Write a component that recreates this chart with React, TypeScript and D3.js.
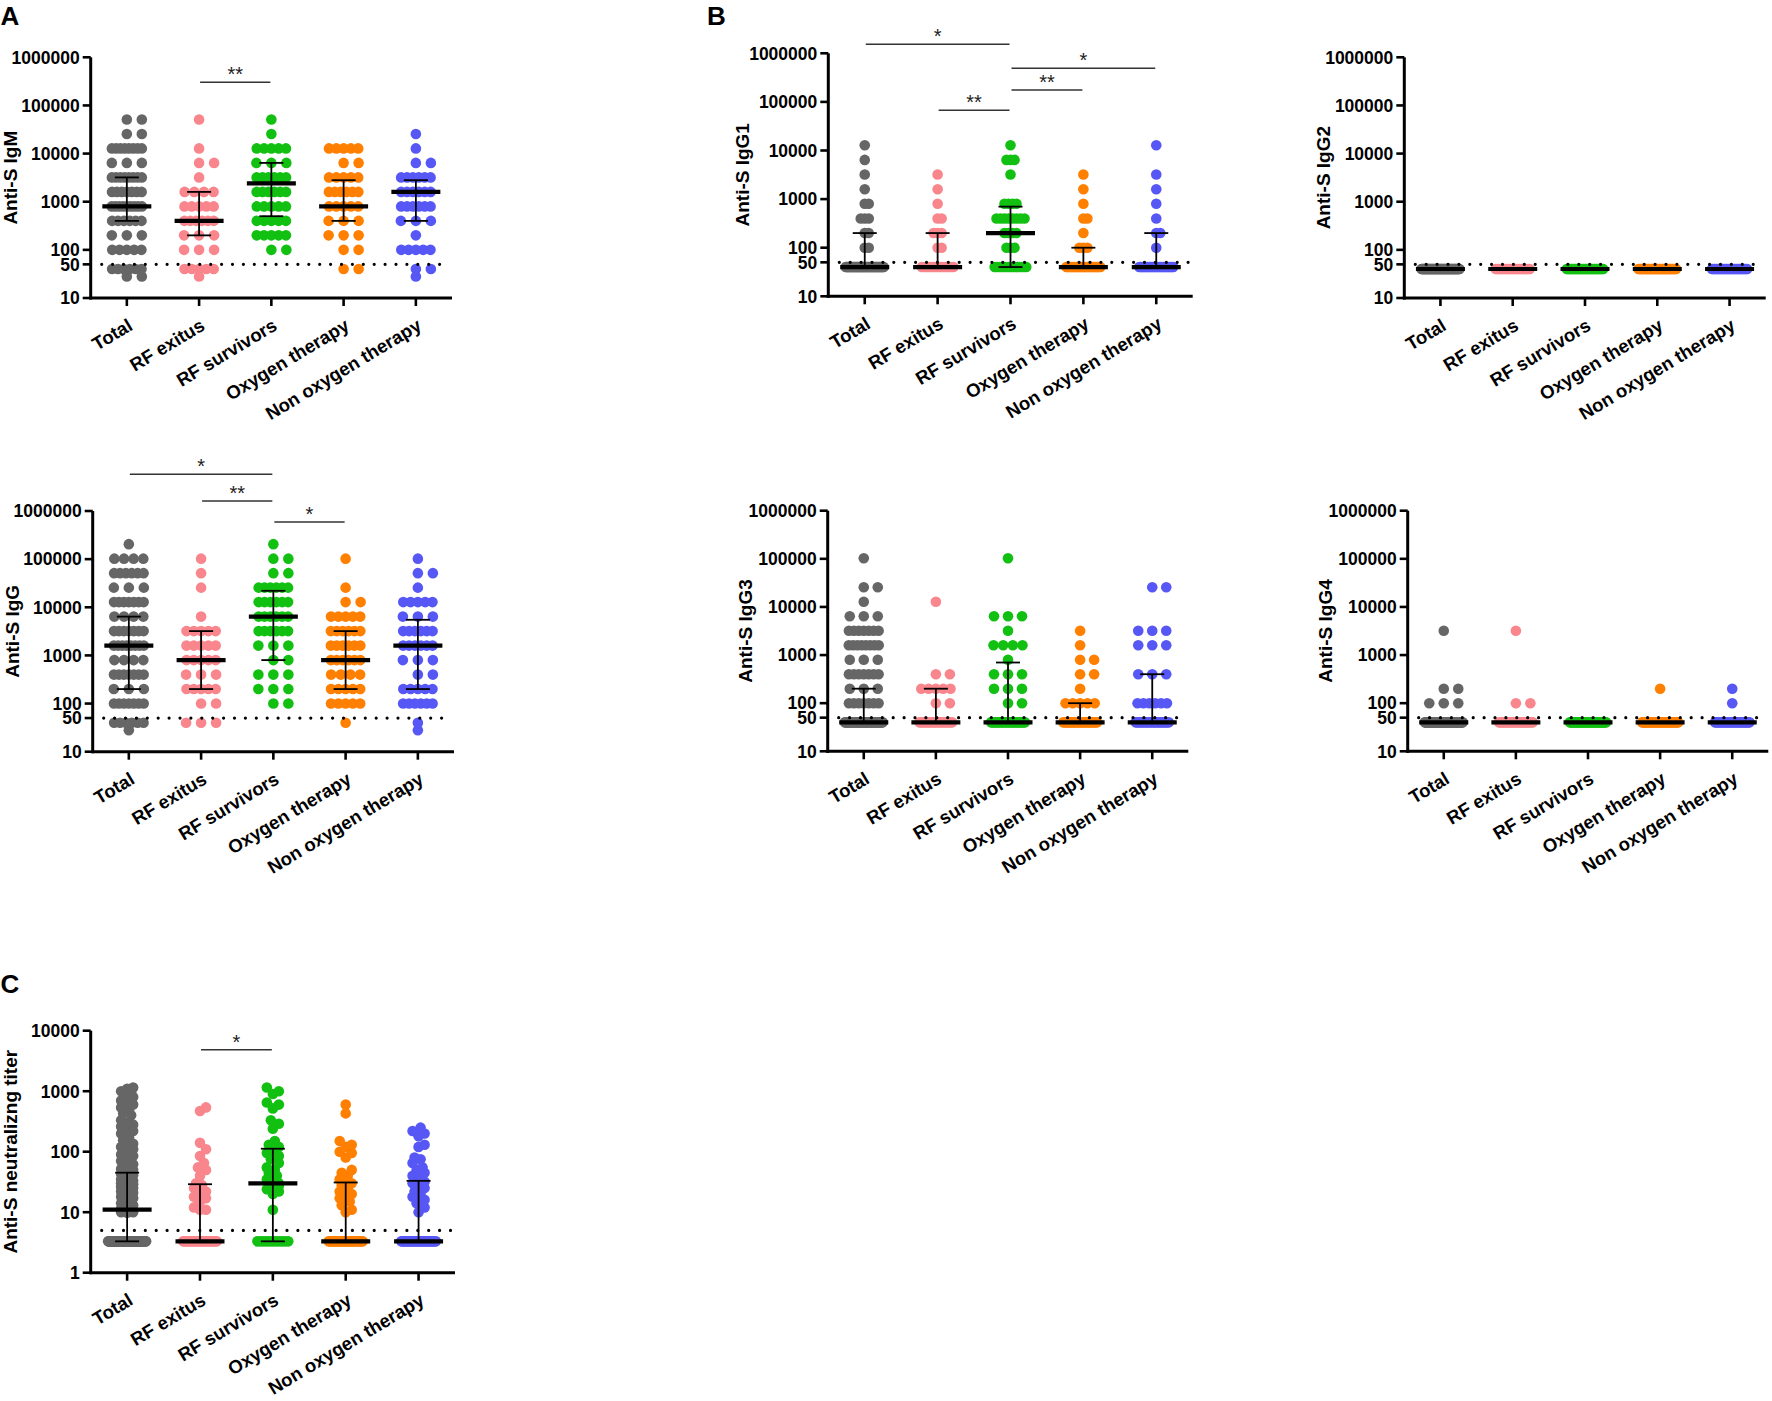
import React from 'react';
import * as d3 from 'd3';

const groupNames = ['Total', 'RF exitus', 'RF survivors', 'Oxygen therapy', 'Non oxygen therapy'];
const groupColors = ['#666666', '#F8868C', '#12C012', '#FF7F00', '#5757F5'];

// ELISA end-point titers as [titer, number of patients]; titers under the 50 cut-off are plotted at 40 / 28
const igmTotal = [[28, 2], [40, 6], [100, 5], [200, 3], [400, 6], [800, 9], [1600, 7], [3200, 8], [6400, 3], [12800, 8], [25600, 2], [51200, 2]];
const igmExitus = [[28, 1], [40, 5], [100, 3], [200, 3], [400, 6], [800, 5], [1600, 4], [3200, 1], [6400, 2], [12800, 1], [51200, 1]];
const igmSurvivors = [[100, 2], [200, 5], [400, 5], [800, 5], [1600, 6], [3200, 6], [6400, 3], [12800, 5], [25600, 1], [51200, 1]];
const igmOxygen = [[40, 2], [100, 2], [200, 3], [400, 3], [800, 5], [1600, 6], [3200, 5], [6400, 2], [12800, 5]];
const igmNonOxygen = [[28, 1], [40, 2], [100, 5], [200, 1], [400, 3], [800, 6], [1600, 6], [3200, 6], [6400, 2], [12800, 1], [25600, 1]];
const igmMedian = [800, 400, 2400, 800, 1600];
const igmQ1 = [400, 200, 500, 400, 400];
const igmQ3 = [3200, 1600, 6400, 2800, 2800];
const igmSig = [[1, 2, '**']];

const iggTotal = [[28, 1], [40, 6], [100, 7], [200, 3], [400, 7], [800, 4], [1600, 8], [3200, 7], [6400, 4], [12800, 7], [25600, 3], [51200, 6], [102400, 4], [204800, 1]];
const iggExitus = [[40, 3], [100, 2], [200, 5], [400, 3], [800, 5], [1600, 5], [3200, 5], [6400, 1], [25600, 1], [51200, 1], [102400, 1]];
const iggSurvivors = [[100, 2], [200, 3], [400, 3], [800, 2], [1600, 3], [3200, 6], [6400, 6], [12800, 6], [25600, 6], [51200, 2], [102400, 2], [204800, 1]];
const iggOxygen = [[40, 1], [100, 5], [200, 5], [400, 4], [800, 6], [1600, 6], [3200, 6], [6400, 5], [12800, 2], [25600, 1], [102400, 1]];
const iggNonOxygen = [[28, 1], [40, 1], [100, 6], [200, 5], [400, 2], [800, 3], [1600, 6], [3200, 6], [6400, 3], [12800, 5], [25600, 1], [51200, 2], [102400, 1]];
const iggMedian = [1600, 800, 6400, 800, 1600];
const iggQ1 = [200, 200, 800, 200, 200];
const iggQ3 = [6400, 3200, 22000, 3200, 5500];
const iggSig = [[0, 2, '*'], [1, 2, '**'], [2, 3, '*']];

const igg1Total = [[40, 45], [100, 2], [200, 2], [400, 3], [800, 2], [1600, 1], [3200, 1], [6400, 1], [12800, 1]];
const igg1Exitus = [[40, 15], [100, 2], [200, 3], [400, 2], [800, 1], [1600, 1], [3200, 1]];
const igg1Survivors = [[40, 15], [100, 3], [200, 4], [400, 8], [800, 4], [3200, 1], [6400, 3], [12800, 1]];
const igg1Oxygen = [[40, 25], [100, 3], [200, 1], [400, 2], [800, 1], [1600, 1], [3200, 1]];
const igg1NonOxygen = [[40, 25], [100, 1], [200, 2], [400, 1], [800, 1], [1600, 1], [3200, 1], [12800, 1]];
const igg1Median = [40, 40, 200, 40, 40];
const igg1Q1 = [40, 40, 40, 40, 40];
const igg1Q3 = [200, 200, 700, 100, 200];
const igg1Sig = [[0, 2, '*'], [2, 4, '*'], [2, 3, '**'], [1, 2, '**']];

const igg2Total = [[40, 65]];
const igg2Exitus = [[40, 25]];
const igg2Survivors = [[40, 35]];
const igg2Oxygen = [[40, 40]];
const igg2NonOxygen = [[40, 30]];
const igg2Median = [40, 40, 40, 40, 40];

const igg3Total = [[40, 45], [100, 7], [200, 3], [400, 7], [800, 3], [1600, 8], [3200, 7], [6400, 3], [12800, 1], [25600, 2], [102400, 1]];
const igg3Exitus = [[40, 20], [100, 2], [200, 5], [400, 2], [12800, 1]];
const igg3Survivors = [[40, 25], [100, 2], [200, 3], [400, 3], [800, 1], [1600, 4], [3200, 1], [6400, 3], [102400, 1]];
const igg3Oxygen = [[40, 25], [100, 5], [200, 1], [400, 2], [800, 2], [1600, 1], [3200, 1]];
const igg3NonOxygen = [[40, 22], [100, 6], [400, 3], [1600, 3], [3200, 3], [25600, 2]];
const igg3Median = [40, 40, 40, 40, 40];
const igg3Q1 = [40, 40, 40, 40, 40];
const igg3Q3 = [200, 200, 700, 100, 400];

const igg4Total = [[40, 60], [100, 3], [200, 2], [3200, 1]];
const igg4Exitus = [[40, 25], [100, 2], [3200, 1]];
const igg4Survivors = [[40, 35]];
const igg4Oxygen = [[40, 35], [200, 1]];
const igg4NonOxygen = [[40, 28], [100, 1], [200, 1]];
const igg4Median = [40, 40, 40, 40, 40];

// neutralizing titers (values above the cut-off of 5) and number of patients below it (plotted at 3.3)
const neutTotal = [1150, 1100, 1000, 950, 900, 800, 700, 650, 600, 540, 500, 430, 400, 330, 300, 280, 260, 240, 220, 200, 170, 155, 135, 125, 120, 110, 100, 95, 90, 85, 80, 75, 70, 62, 58, 55, 52, 50, 47, 45, 43, 41, 39, 37, 35, 33, 32, 31, 30, 29, 28, 27, 26, 25, 24, 23, 22, 21, 20, 19, 18, 17, 16, 15, 14, 13, 12.5, 12, 11.5, 11, 11, 10.5, 10, 10, 9.8];
const neutExitus = [540, 470, 140, 110, 85, 65, 55, 50, 40, 30, 28, 25, 22, 20, 18, 17, 15, 12, 11, 11];
const neutSurvivors = [1150, 1000, 900, 650, 600, 520, 330, 290, 240, 150, 130, 120, 100, 95, 85, 75, 65, 55, 50, 45, 40, 35, 32, 30, 30, 28, 27, 25, 24, 22, 20, 11];
const neutOxygen = [600, 430, 150, 130, 120, 100, 95, 80, 50, 45, 40, 35, 30, 30, 28, 25, 22, 20, 18, 17, 15, 13, 11, 10];
const neutNonOxygen = [250, 220, 200, 180, 130, 120, 80, 75, 65, 55, 50, 45, 40, 35, 32, 30, 28, 25, 22, 20, 18, 16, 14, 12, 10];
const neutBelowCutoff = [66, 24, 12, 26, 28];
const neutMedian = [11, 3.3, 30, 3.3, 3.3];
const neutQ1 = [3.3, 3.3, 3.3, 3.3, 3.3];
const neutQ3 = [45, 29, 112, 31, 33];
const neutSig = [[1, 2, '*']];

const elisaTicks = [10, 50, 100, 1000, 10000, 100000, 1000000];
const neutTicks = [1, 10, 100, 1000, 10000];

const FONT = "'Liberation Sans', Arial, Helvetica, sans-serif";
const R = 5.3;
const LABEL_ANGLE = -31;

const neutRows = [neutTotal, neutExitus, neutSurvivors, neutOxygen, neutNonOxygen].map((vals, i) =>
  vals.map(v => [v, 1]).concat([[3.3, neutBelowCutoff[i]]])
);

const panels = [
  { title: 'Anti-S IgM', data: [igmTotal, igmExitus, igmSurvivors, igmOxygen, igmNonOxygen], median: igmMedian, q1: igmQ1, q3: igmQ3, sig: igmSig,
    x0: 90.7, x1: 452, yTop: 57.3, yBottom: 298, sigY: [82.3], step: 15, jitter: 0, titleGap: 73.3, domain: [10, 1e6], ticks: elisaTicks, cutoff: 50 },
  { title: 'Anti-S IgG', data: [iggTotal, iggExitus, iggSurvivors, iggOxygen, iggNonOxygen], median: iggMedian, q1: iggQ1, q3: iggQ3, sig: iggSig,
    x0: 92.7, x1: 454, yTop: 511, yBottom: 751.7, sigY: [474.3, 501, 522], step: 15, jitter: 0, titleGap: 74.1, domain: [10, 1e6], ticks: elisaTicks, cutoff: 50 },
  { title: 'Anti-S IgG1', data: [igg1Total, igg1Exitus, igg1Survivors, igg1Oxygen, igg1NonOxygen], median: igg1Median, q1: igg1Q1, q3: igg1Q3, sig: igg1Sig,
    x0: 828.3, x1: 1192.7, yTop: 53.3, yBottom: 296.3, sigY: [44.3, 68.3, 90, 110.3], step: 4, jitter: 0, titleGap: 79.7, domain: [10, 1e6], ticks: elisaTicks, cutoff: 50 },
  { title: 'Anti-S IgG2', data: [igg2Total, igg2Exitus, igg2Survivors, igg2Oxygen, igg2NonOxygen], median: igg2Median, q1: igg2Median, q3: igg2Median, sig: [],
    x0: 1404.3, x1: 1765.7, yTop: 57.3, yBottom: 298, sigY: [], step: 14, jitter: 0, titleGap: 74.7, domain: [10, 1e6], ticks: elisaTicks, cutoff: 50 },
  { title: 'Anti-S IgG3', data: [igg3Total, igg3Exitus, igg3Survivors, igg3Oxygen, igg3NonOxygen], median: igg3Median, q1: igg3Q1, q3: igg3Q3, sig: [],
    x0: 827.7, x1: 1188.3, yTop: 510.7, yBottom: 751.3, sigY: [], step: 14, jitter: 0, titleGap: 75.8, domain: [10, 1e6], ticks: elisaTicks, cutoff: 50 },
  { title: 'Anti-S IgG4', data: [igg4Total, igg4Exitus, igg4Survivors, igg4Oxygen, igg4NonOxygen], median: igg4Median, q1: igg4Median, q3: igg4Median, sig: [],
    x0: 1407.7, x1: 1768.3, yTop: 510.7, yBottom: 751.3, sigY: [], step: 14.5, jitter: 0, titleGap: 75.8, domain: [10, 1e6], ticks: elisaTicks, cutoff: 50 },
  { title: 'Anti-S neutralizng titer', data: neutRows, median: neutMedian, q1: neutQ1, q3: neutQ3, sig: neutSig,
    x0: 90.7, x1: 455, yTop: 1030.7, yBottom: 1272.7, sigY: [1049.7], step: 14, jitter: 6, titleGap: 73.3, domain: [1, 1e4], ticks: neutTicks, cutoff: 5 },
];

function rowOffsets(k: number, step: number) {
  if (k === 1) return [0];
  if (k === 2) return [0, step];
  if (k === 3) return [0, step, -step];
  const half = Math.min(19, 14 + 0.12 * k, ((k - 1) * step) / 2);
  return d3.range(k).map(i => -half + (2 * half * i) / (k - 1));
}

function swarm(rows: any[], cx: number, y: (v: number) => number, step: number, jitter: number) {
  const out: { x: number; y: number }[] = [];
  const sorted = rows.slice().sort((a, b) => a[0] - b[0]);
  sorted.forEach(([v, k]) => {
    const cy = y(v);
    if (k > 1 || jitter === 0) {
      rowOffsets(k, step).forEach(o => out.push({ x: cx + o, y: cy }));
      return;
    }
    const cands = [0];
    for (let o = 2; o <= jitter; o += 2) cands.push(o, -o);
    let best = 0;
    let bestD = -1;
    for (const o of cands) {
      let d = Infinity;
      for (const q of out) {
        const dd = Math.hypot(q.x - (cx + o), q.y - cy);
        if (dd < d) d = dd;
      }
      if (d >= 1.5 * R) { best = o; break; }
      if (d > bestD) { bestD = d; best = o; }
    }
    out.push({ x: cx + best, y: cy });
  });
  return out;
}

function DotPanel({ p }: { p: any }) {
  const x = d3.scaleBand().domain(groupNames).range([p.x0, p.x1]).padding(0);
  const y = d3.scaleLog().domain(p.domain).range([p.yBottom, p.yTop]);
  const cxs = groupNames.map(g => (x(g) as number) + x.bandwidth() / 2);
  const dots = p.data.map((rows: any[], gi: number) => swarm(rows, cxs[gi], y, p.step, p.jitter));
  const cutY = y(p.cutoff);
  return (
    <g>
      {dots.map((pts: any[], gi: number) => (
        <g key={gi} fill={groupColors[gi]}>
          {pts.map((d, i) => <circle key={i} cx={d.x} cy={d.y} r={R} />)}
        </g>
      ))}
      <line x1={p.x0 + 11} x2={p.x1 - 2} y1={cutY} y2={cutY} stroke="#000" strokeWidth={3.2}
        strokeDasharray="0 10.9" strokeLinecap="round" />
      {cxs.map((cx, gi) => {
        const m = y(p.median[gi]);
        const a = y(p.q1[gi]);
        const b = y(p.q3[gi]);
        return (
          <g key={gi} stroke="#000">
            {a !== b && (
              <g strokeWidth={1.8}>
                <line x1={cx} x2={cx} y1={a} y2={b} />
                <line x1={cx - 12} x2={cx + 12} y1={a} y2={a} />
                <line x1={cx - 12} x2={cx + 12} y1={b} y2={b} />
              </g>
            )}
            <line x1={cx - 24.5} x2={cx + 24.5} y1={m} y2={m} strokeWidth={4.2} />
          </g>
        );
      })}
      {/* axes */}
      <line x1={p.x0} x2={p.x0} y1={p.yTop} y2={p.yBottom + 1.5} stroke="#000" strokeWidth={3} />
      <line x1={p.x0 - 1.5} x2={p.x1} y1={p.yBottom} y2={p.yBottom} stroke="#000" strokeWidth={3} />
      {p.ticks.map((t: number) => (
        <g key={t}>
          <line x1={p.x0 - 8} x2={p.x0} y1={y(t)} y2={y(t)} stroke="#000" strokeWidth={2.6} />
          <text x={p.x0 - 11} y={y(t)} dy="0.36em" textAnchor="end" fontSize={17.5} fontWeight="bold" fontFamily={FONT}>{t}</text>
        </g>
      ))}
      {cxs.map((cx, gi) => (
        <g key={gi}>
          <line x1={cx} x2={cx} y1={p.yBottom} y2={p.yBottom + 8} stroke="#000" strokeWidth={2.6} />
          <text transform={`translate(${cx + 7},${p.yBottom + 31}) rotate(${LABEL_ANGLE})`} textAnchor="end"
            fontSize={18.5} fontWeight="bold" fontFamily={FONT}>{groupNames[gi]}</text>
        </g>
      ))}
      <text transform={`translate(${p.x0 - p.titleGap},${(p.yTop + p.yBottom) / 2}) rotate(-90)`} textAnchor="middle"
        fontSize={19} fontWeight="bold" fontFamily={FONT}>{p.title}</text>
      {p.sig.map((s: any[], i: number) => {
        const xa = cxs[s[0]] + 1;
        const xb = cxs[s[1]] - 1;
        const ly = p.sigY[i];
        return (
          <g key={i}>
            <line x1={xa} x2={xb} y1={ly} y2={ly} stroke="#333" strokeWidth={1.4} />
            <text x={(xa + xb) / 2} y={ly - 1} textAnchor="middle" fontSize={20} fontFamily={FONT} fill="#222">{s[2]}</text>
          </g>
        );
      })}
    </g>
  );
}

export default function App() {
  return (
    <svg width={1772} height={1401} style={{ position: 'absolute', left: 0, top: 0 }}>
      <rect width={1772} height={1401} fill="#fff" />
      {panels.map((p, i) => <DotPanel key={i} p={p} />)}
      <text x={0.5} y={24.5} fontSize={26} fontWeight="bold" fontFamily={FONT}>A</text>
      <text x={707} y={25} fontSize={26} fontWeight="bold" fontFamily={FONT}>B</text>
      <text x={0.5} y={993} fontSize={26} fontWeight="bold" fontFamily={FONT}>C</text>
    </svg>
  );
}
